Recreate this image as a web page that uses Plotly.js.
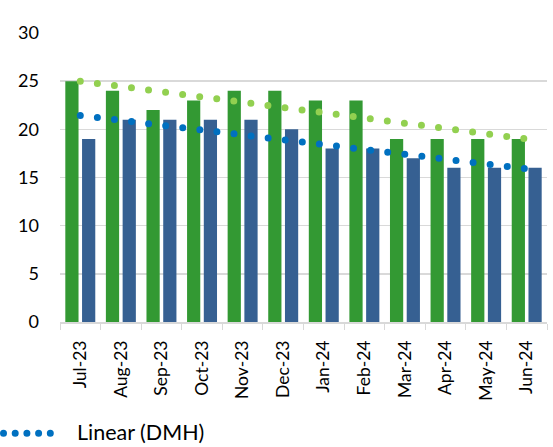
<!DOCTYPE html>
<html>
<head>
<meta charset="utf-8">
<script src="https://cdn.plot.ly/plotly-3.0.1.min.js"></script>
<style>
html,body{margin:0;padding:0;background:#fff;}
#chart{width:553px;height:447px;}
</style>
</head>
<body>
<div id="chart"></div>
<script>
var months = ["Jul-23","Aug-23","Sep-23","Oct-23","Nov-23","Dec-23","Jan-24","Feb-24","Mar-24","Apr-24","May-24","Jun-24"];
var seriesGreen = [25,24,22,23,24,24,23,23,19,19,19,19];
var seriesDMH = [19,21,21,21,21,20,18,18,17,16,16,16];
var yTicks = [0,5,10,15,20,25,30];

function linearTrend(vals){
  var n = vals.length, sx=0, sy=0, sxy=0, sxx=0;
  for (var i=0;i<n;i++){ var x=i+1; sx+=x; sy+=vals[i]; sxy+=x*vals[i]; sxx+=x*x; }
  var b = (n*sxy - sx*sy)/(n*sxx - sx*sx);
  var a = (sy - b*sx)/n;
  return vals.map(function(_,i){ return a + b*(i+1); });
}

var FONT = "Lato, 'Open Sans', sans-serif";
var traces = [
  {type:'bar', x:months, y:seriesGreen, name:'Series1', marker:{color:'#339933'}, showlegend:false, hoverinfo:'skip'},
  {type:'bar', x:months, y:seriesDMH, name:'DMH', marker:{color:'#366092'}, showlegend:false, hoverinfo:'skip'},
  {type:'scatter', mode:'lines', x:months, y:linearTrend(seriesGreen), name:'Linear (Series1)',
   line:{color:'#92D050', width:7, dash:'0px,17.2px'}, showlegend:false, hoverinfo:'skip'},
  {type:'scatter', mode:'lines', x:months, y:linearTrend(seriesDMH), name:'Linear (DMH)',
   line:{color:'#0070C0', width:7, dash:'0px,17.2px'}, showlegend:false, hoverinfo:'skip'}
];

var plotH = 447-33-124.5;
function pyPaper(px){ return (322.5-px)/plotH; }
function pxPaper(px){ return (px-60)/487; }

var layout = {
  width:553, height:447,
  margin:{l:60, r:6, t:33, b:124.5, pad:0},
  paper_bgcolor:'#ffffff', plot_bgcolor:'#ffffff',
  font:{family:FONT, size:17, color:'#000000'},
  barmode:'group', bargap:0.175, bargroupgap:0.21,
  showlegend:false,
  xaxis:{type:'category', showline:true, linecolor:'#d9d9d9', linewidth:1.5,
    ticks:'outside', ticklen:6, tickcolor:'#d9d9d9', tickson:'boundaries',
    tickangle:-90, tickfont:{family:FONT, size:17.5, color:'#000'}, showgrid:false,
    ticklabelstandoff:10, fixedrange:true},
  yaxis:{range:[0,30], tickvals:yTicks, ticktext:yTicks.map(String), showgrid:true,
    gridcolor:'#d9d9d9', gridwidth:1.5, zeroline:false, showline:false,
    tickfont:{family:FONT, size:18, color:'#000'}, ticks:'', ticklabelstandoff:20, fixedrange:true},
  shapes:[
    {type:'line', xref:'paper', yref:'paper', x0:pxPaper(3.5), x1:pxPaper(52), y0:pyPaper(434), y1:pyPaper(434),
     line:{color:'#0070C0', width:7, dash:'0px,11.7px'}}
  ],
  annotations:[
    {xref:'paper', yref:'paper', x:pxPaper(75), y:pyPaper(433), xanchor:'left', yanchor:'middle',
     text:'Linear (DMH)', showarrow:false, font:{family:FONT, size:21.5, color:'#000'}}
  ]
};

Plotly.newPlot('chart', traces, layout, {staticPlot:true, displayModeBar:false}).then(function(){
  document.querySelectorAll('.scatterlayer .js-line, .shapelayer path').forEach(function(p){
    p.style.strokeLinecap = 'round';
  });
});
</script>
</body>
</html>
